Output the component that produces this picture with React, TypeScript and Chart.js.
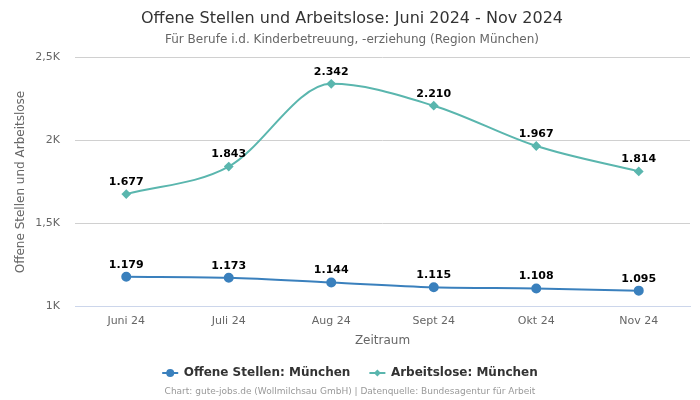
import React, { useEffect, useRef } from "react";
import { Chart, registerables } from "chart.js";

Chart.register(...registerables);

const categories = ["Juni 24", "Juli 24", "Aug 24", "Sept 24", "Okt 24", "Nov 24"];
const offeneStellen = [1179, 1173, 1144, 1115, 1108, 1095];
const arbeitslose = [1677, 1843, 2342, 2210, 1967, 1814];

const FONT = "'DejaVu Sans', sans-serif";
const BLUE = "#3a80bd";
const TEAL = "#5ab6ae";

const fmtK = (v: number) => {
  const k = v / 1000;
  return (Number.isInteger(k) ? String(k) : String(k).replace(".", ",")) + "K";
};
const fmtNum = (v: number) => v.toLocaleString("de-DE");

const labelPlugin = {
  id: "pointLabels",
  afterDatasetsDraw(chart: any) {
    const ctx = chart.ctx;
    ctx.save();
    ctx.font = `bold 11px ${FONT}`;
    ctx.fillStyle = "#000";
    ctx.textAlign = "center";
    ctx.textBaseline = "middle";
    chart.data.datasets.forEach((ds: any, i: number) => {
      const meta = chart.getDatasetMeta(i);
      meta.data.forEach((pt: any, j: number) => {
        ctx.fillText(fmtNum(ds.data[j]), pt.x, pt.y - 12);
      });
    });
    ctx.restore();
  },
};

const legendPlugin = {
  id: "customLegend",
  afterDraw(chart: any) {
    const ctx = chart.ctx;
    ctx.save();
    ctx.font = `bold 12px ${FONT}`;
    ctx.textBaseline = "middle";
    const y = 373;
    const lineW = 16;
    const gap = 5.5;
    const itemGap = 19;
    const items = chart.data.datasets.map((ds: any) => ({
      ds,
      w: lineW + gap + ctx.measureText(ds.label).width,
    }));
    const total = items.reduce((s: number, it: any) => s + it.w, 0) + itemGap * (items.length - 1);
    let x = chart.width / 2 - total / 2;
    items.forEach((it: any) => {
      const ds = it.ds;
      ctx.strokeStyle = ds.borderColor;
      ctx.lineWidth = 2;
      ctx.beginPath();
      ctx.moveTo(x, y);
      ctx.lineTo(x + lineW, y);
      ctx.stroke();
      ctx.fillStyle = ds.backgroundColor;
      const cx = x + lineW / 2;
      if (ds.pointStyle === "rectRot") {
        const r = 3.5;
        ctx.beginPath();
        ctx.moveTo(cx, y - r);
        ctx.lineTo(cx + r, y);
        ctx.lineTo(cx, y + r);
        ctx.lineTo(cx - r, y);
        ctx.closePath();
        ctx.fill();
      } else {
        ctx.beginPath();
        ctx.arc(cx, y, 4, 0, Math.PI * 2);
        ctx.fill();
      }
      ctx.fillStyle = "#333";
      ctx.textAlign = "left";
      ctx.fillText(ds.label, x + lineW + gap, y);
      x += it.w + itemGap;
    });

    ctx.font = `9px ${FONT}`;
    ctx.fillStyle = "#999";
    ctx.textAlign = "center";
    ctx.fillText(
      "Chart: gute-jobs.de (Wollmilchsau GmbH) | Datenquelle: Bundesagentur für Arbeit",
      chart.width / 2,
      392
    );
    ctx.restore();
  },
};

export default function App() {
  const ref = useRef<HTMLCanvasElement>(null);
  useEffect(() => {
    if (!ref.current) return;
    const chart = new Chart(ref.current, {
      type: "line",
      data: {
        labels: categories,
        datasets: [
          {
            label: "Offene Stellen: München",
            data: offeneStellen,
            borderColor: BLUE,
            backgroundColor: BLUE,
            pointStyle: "circle",
            pointRadius: 4,
            borderWidth: 2,
            cubicInterpolationMode: "monotone",
          },
          {
            label: "Arbeitslose: München",
            data: arbeitslose,
            borderColor: TEAL,
            backgroundColor: TEAL,
            pointStyle: "rectRot",
            pointRadius: 3.5,
            borderWidth: 2,
            cubicInterpolationMode: "monotone",
          },
        ],
      },
      options: {
        animation: false,
        responsive: false,
        layout: { padding: { left: 14, right: 10, top: 4, bottom: 52 } },
        plugins: {
          title: {
            display: true,
            text: "Offene Stellen und Arbeitslose: Juni 2024 - Nov 2024",
            font: { family: FONT, size: 16, weight: "normal" },
            color: "#333",
            padding: { top: 5, bottom: 4 },
          },
          subtitle: {
            display: true,
            text: "Für Berufe i.d. Kinderbetreuung, -erziehung (Region München)",
            font: { family: FONT, size: 12 },
            color: "#666",
            padding: { bottom: 11 },
          },
          legend: { display: false },
          tooltip: { enabled: false },
        },
        scales: {
          x: {
            offset: true,
            grid: { display: false },
            border: { display: true, color: "#ccd6eb" },
            ticks: { font: { family: FONT, size: 11 }, color: "#666", padding: 0 },
            title: {
              display: true,
              text: "Zeitraum",
              font: { family: FONT, size: 12 },
              color: "#666",
              padding: { top: 6, bottom: 0 },
            },
          },
          y: {
            min: 1000,
            max: 2500,
            grid: { color: "#d0d0d0", drawTicks: false },
            border: { display: false },
            afterFit(axis: any) {
              axis.width = 61;
            },
            ticks: {
              stepSize: 500,
              font: { family: FONT, size: 11 },
              color: "#666",
              padding: 15,
              callback: (v: any) => fmtK(Number(v)),
            },
            title: {
              display: true,
              text: "Offene Stellen und Arbeitslose",
              font: { family: FONT, size: 12 },
              color: "#666",
              padding: { top: 0, bottom: 4 },
            },
          },
        },
      },
      plugins: [labelPlugin, legendPlugin],
    } as any);
    return () => chart.destroy();
  }, []);
  return (
    <div style={{ position: "fixed", left: 0, top: 0, width: 700, height: 400 }}>
      <canvas ref={ref} width={700} height={400} style={{ display: "block" }} />
    </div>
  );
}
